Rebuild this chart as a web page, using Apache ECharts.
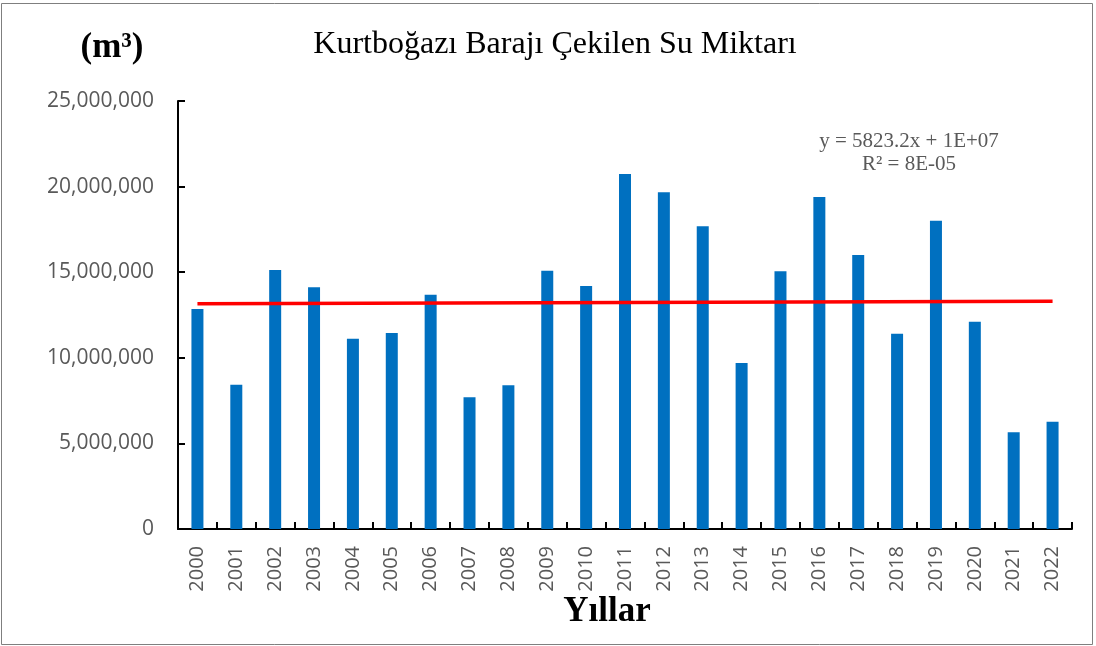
<!DOCTYPE html>
<html>
<head>
<meta charset="utf-8">
<script src="https://cdn.jsdelivr.net/npm/echarts@6/dist/echarts.min.js"></script>
<style>
  html, body { margin: 0; padding: 0; background: #fff; }
  #chart { width: 1096px; height: 646px; }
</style>
</head>
<body>
<div id="chart"></div>
<script>
const years = [
  "2000", "2001", "2002", "2003", "2004", "2005", "2006", "2007",
  "2008", "2009", "2010", "2011", "2012", "2013", "2014", "2015",
  "2016", "2017", "2018", "2019", "2020", "2021", "2022",
];

// withdrawn water, m³
const withdrawn = [
  12850000, 8430000, 15130000, 14120000, 11120000, 11450000, 13690000, 7690000,
  8390000, 15090000, 14190000, 20740000, 19670000, 17680000, 9700000, 15050000,
  19390000, 16000000, 11410000, 18010000, 12110000, 5650000, 6270000,
];

// linear trend endpoints (first and last year)
const trendYears = ["2000", "2022"];
const trendValues = [13160000, 13300000];

const trendLabel = ["y = 5823.2x + 1E+07", "R² = 8E-05"];

const yTicks = [0, 5000000, 10000000, 15000000, 20000000, 25000000];

const grey = "#595959";
const sans = "'Open Sans', 'Liberation Sans', sans-serif";
const serif = "'Liberation Serif', 'Times New Roman', serif";

const chart = echarts.init(document.getElementById("chart"), null, { renderer: "canvas" });

chart.setOption({
  backgroundColor: "#fff",
  animation: false,
  grid: { left: 178, right: 24, top: 101, bottom: 117, containLabel: false },
  xAxis: {
    type: "category",
    data: years,
    boundaryGap: true,
    axisLine: { lineStyle: { color: "#000", width: 2 } },
    axisTick: { show: true, inside: true, length: 7, lineStyle: { color: "#000", width: 2 } },
    axisLabel: {
      rotate: 90,
      margin: 17,
      color: grey,
      fontFamily: sans,
      fontSize: 20,
      interval: 0,
    },
    splitLine: { show: false },
  },
  yAxis: {
    type: "value",
    min: yTicks[0],
    max: yTicks[yTicks.length - 1],
    interval: 5000000,
    axisLine: { show: true, lineStyle: { color: "#000", width: 2 } },
    axisTick: { show: true, inside: true, length: 7, lineStyle: { color: "#000", width: 2 } },
    axisLabel: {
      margin: 24,
      color: grey,
      fontFamily: sans,
      fontSize: 21,
      formatter: (v) => v.toLocaleString("en-US"),
    },
    splitLine: { show: false },
  },
  series: [
    {
      type: "bar",
      data: withdrawn,
      barWidth: 12,
      itemStyle: { color: "#0070C0" },
    },
    {
      type: "line",
      data: trendYears.map((y, i) => [y, trendValues[i]]),
      symbol: "none",
      lineStyle: { color: "#ff0000", width: 3.5 },
      z: 5,
    },
  ],
  graphic: [
    {
      type: "rect",
      shape: { x: 1.5, y: 3.5, width: 1091, height: 641 },
      style: { fill: null, stroke: "#7f7f7f", lineWidth: 1 },
      silent: true,
    },
    {
      type: "text",
      x: 555, y: 45,
      style: {
        text: "Kurtboğazı Barajı Çekilen Su Miktarı",
        font: "32px " + serif,
        fill: "#000",
        textAlign: "center",
        textVerticalAlign: "middle",
      },
    },
    {
      type: "text",
      x: 112, y: 48,
      style: {
        text: "(m³)",
        font: "bold 35px " + serif,
        fill: "#000",
        textAlign: "center",
        textVerticalAlign: "middle",
      },
    },
    {
      type: "text",
      x: 607, y: 612,
      style: {
        text: "Yıllar",
        font: "bold 35px " + serif,
        fill: "#000",
        textAlign: "center",
        textVerticalAlign: "middle",
      },
    },
    {
      type: "text",
      x: 909, y: 141,
      style: {
        text: trendLabel[0],
        font: "21px " + serif,
        fill: grey,
        textAlign: "center",
        textVerticalAlign: "middle",
      },
    },
    {
      type: "text",
      x: 909, y: 164,
      style: {
        text: trendLabel[1],
        font: "21px " + serif,
        fill: grey,
        textAlign: "center",
        textVerticalAlign: "middle",
      },
    },
  ],
});
</script>
</body>
</html>
